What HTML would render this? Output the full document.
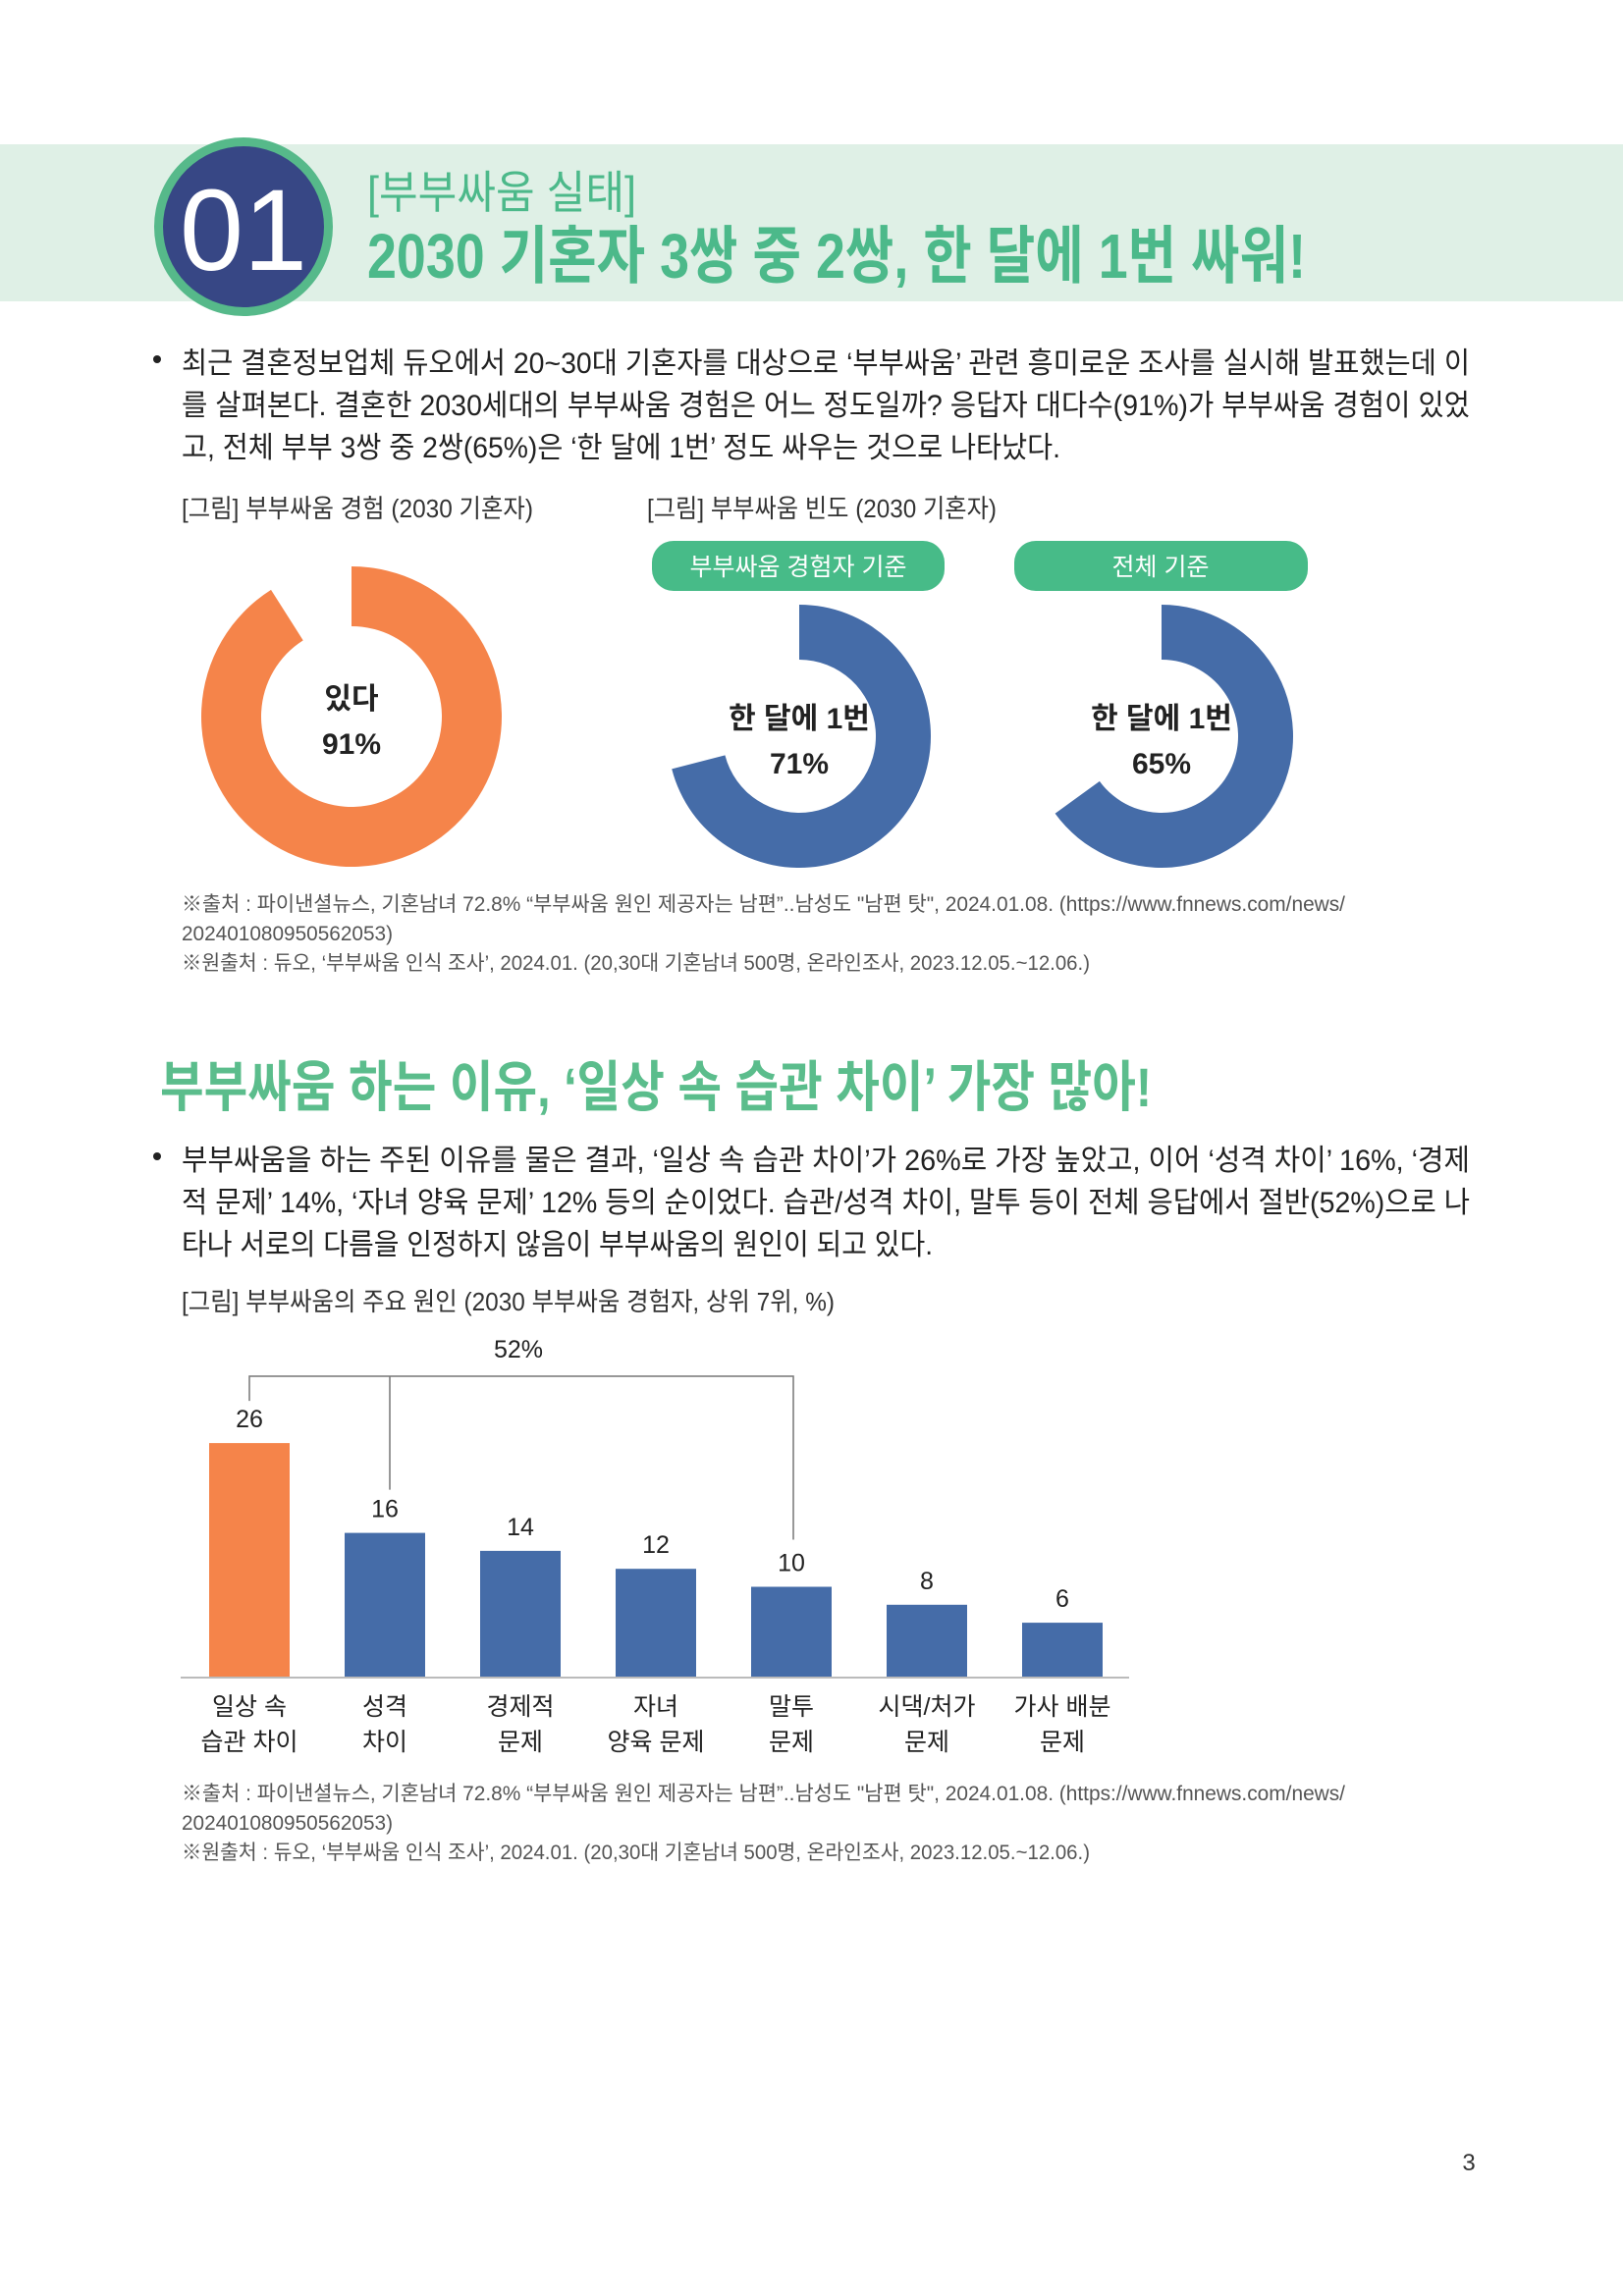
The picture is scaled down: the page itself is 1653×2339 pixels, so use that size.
<!DOCTYPE html>
<html><head><meta charset="utf-8">
<style>
html,body{margin:0;padding:0;background:#fff;}
svg{display:block;font-family:"Liberation Sans","Noto Sans CJK KR",sans-serif;}
</style></head>
<body>
<svg id="pg" width="1653" height="2339" viewBox="0 0 1653 2339" xmlns="http://www.w3.org/2000/svg">
<rect x="0" y="147" width="1653" height="160" fill="#dff0e6"/>
<circle cx="248" cy="231" r="91" fill="#56b98a"/>
<circle cx="248" cy="231" r="82" fill="#374785"/>
<text x="248" y="275" text-anchor="middle" font-size="118" fill="#fff" textLength="130" lengthAdjust="spacingAndGlyphs">01</text>
<text x="374" y="212" font-size="46" fill="#4cb98a" textLength="274" lengthAdjust="spacingAndGlyphs">[부부싸움 실태]</text>
<text x="374" y="283" font-size="64" font-weight="bold" fill="#4cb98a" textLength="956" lengthAdjust="spacingAndGlyphs">2030 기혼자 3쌍 중 2쌍, 한 달에 1번 싸워!</text>

<g font-size="30" fill="#222">
<circle cx="160" cy="366" r="4" fill="#222"/>
<text x="185" y="380" textLength="1312" lengthAdjust="spacingAndGlyphs">최근 결혼정보업체 듀오에서 20~30대 기혼자를 대상으로 ‘부부싸움’ 관련 흥미로운 조사를 실시해 발표했는데 이</text>
<text x="185" y="423" textLength="1312" lengthAdjust="spacingAndGlyphs">를 살펴본다. 결혼한 2030세대의 부부싸움 경험은 어느 정도일까? 응답자 대다수(91%)가 부부싸움 경험이 있었</text>
<text x="185" y="466" textLength="895" lengthAdjust="spacingAndGlyphs">고, 전체 부부 3쌍 중 2쌍(65%)은 ‘한 달에 1번’ 정도 싸우는 것으로 나타났다.</text>
</g>

<text x="185" y="527" font-size="26" fill="#333" textLength="358" lengthAdjust="spacingAndGlyphs">[그림] 부부싸움 경험 (2030 기혼자)</text>
<text x="659" y="527" font-size="26" fill="#333" textLength="356" lengthAdjust="spacingAndGlyphs">[그림] 부부싸움 빈도 (2030 기혼자)</text>

<rect x="664" y="551" width="298" height="51" rx="22" fill="#47bb88"/>
<text x="813" y="586" text-anchor="middle" font-size="25" fill="#fff">부부싸움 경험자 기준</text>
<rect x="1033" y="551" width="299" height="51" rx="22" fill="#47bb88"/>
<text x="1182" y="586" text-anchor="middle" font-size="25" fill="#fff">전체 기준</text>

<g id="donuts"></g>

<g font-size="21" fill="#555">
<text x="185" y="928" textLength="1185" lengthAdjust="spacingAndGlyphs">※출처 : 파이낸셜뉴스, 기혼남녀 72.8% “부부싸움 원인 제공자는 남편”..남성도 "남편 탓", 2024.01.08. (https://www.fnnews.com/news/</text>
<text x="185" y="958" textLength="215" lengthAdjust="spacingAndGlyphs">202401080950562053)</text>
<text x="185" y="988" textLength="925" lengthAdjust="spacingAndGlyphs">※원출처 : 듀오, ‘부부싸움 인식 조사’, 2024.01. (20,30대 기혼남녀 500명, 온라인조사, 2023.12.05.~12.06.)</text>
</g>

<text x="163" y="1127" font-size="56" font-weight="bold" fill="#5bbd8c" textLength="1010" lengthAdjust="spacingAndGlyphs">부부싸움 하는 이유, ‘일상 속 습관 차이’ 가장 많아!</text>

<g font-size="30" fill="#222">
<circle cx="160" cy="1178" r="4" fill="#222"/>
<text x="185" y="1192" textLength="1312" lengthAdjust="spacingAndGlyphs">부부싸움을 하는 주된 이유를 물은 결과, ‘일상 속 습관 차이’가 26%로 가장 높았고, 이어 ‘성격 차이’ 16%, ‘경제</text>
<text x="185" y="1235" textLength="1312" lengthAdjust="spacingAndGlyphs">적 문제’ 14%, ‘자녀 양육 문제’ 12% 등의 순이었다. 습관/성격 차이, 말투 등이 전체 응답에서 절반(52%)으로 나</text>
<text x="185" y="1278" textLength="765" lengthAdjust="spacingAndGlyphs">타나 서로의 다름을 인정하지 않음이 부부싸움의 원인이 되고 있다.</text>
</g>

<text x="185" y="1335" font-size="26" fill="#333" textLength="665" lengthAdjust="spacingAndGlyphs">[그림] 부부싸움의 주요 원인 (2030 부부싸움 경험자, 상위 7위, %)</text>

<g id="bars"></g>

<g font-size="21" fill="#555">
<text x="185" y="1834" textLength="1185" lengthAdjust="spacingAndGlyphs">※출처 : 파이낸셜뉴스, 기혼남녀 72.8% “부부싸움 원인 제공자는 남편”..남성도 "남편 탓", 2024.01.08. (https://www.fnnews.com/news/</text>
<text x="185" y="1864" textLength="215" lengthAdjust="spacingAndGlyphs">202401080950562053)</text>
<text x="185" y="1894" textLength="925" lengthAdjust="spacingAndGlyphs">※원출처 : 듀오, ‘부부싸움 인식 조사’, 2024.01. (20,30대 기혼남녀 500명, 온라인조사, 2023.12.05.~12.06.)</text>
</g>

<text x="1496" y="2211" font-size="24" fill="#333" text-anchor="middle">3</text>
</svg>

<script>
const donutValues = [91, 71, 65];
const donutLabels = ["있다", "한 달에 1번", "한 달에 1번"];
const donutColors = ["#f5844a", "#456ca8", "#456ca8"];

const barCategories = [["일상 속","습관 차이"],["성격","차이"],["경제적","문제"],["자녀","양육 문제"],["말투","문제"],["시댁/처가","문제"],["가사 배분","문제"]];
const barValues = [26, 16, 14, 12, 10, 8, 6];
const bracketTotal = "52%";

const NS = "http://www.w3.org/2000/svg";
function mk(tag, attrs, parent){ const e=document.createElementNS(NS,tag); for(const k in attrs) e.setAttribute(k,attrs[k]); parent.appendChild(e); return e; }

const dg = document.getElementById('donuts');
const geo = [{cx:358,cy:730,R:153,r:92},{cx:814,cy:750,R:134,r:78},{cx:1183,cy:750,R:134,r:78}];
function arcPath(cx,cy,R,r,frac){
  const a0=-Math.PI/2, a1=a0+2*Math.PI*Math.min(frac,0.9999);
  const large = frac>0.5?1:0;
  const p=(rad,a)=>[cx+rad*Math.cos(a), cy+rad*Math.sin(a)];
  const [x0,y0]=p(R,a0),[x1,y1]=p(R,a1),[x2,y2]=p(r,a1),[x3,y3]=p(r,a0);
  return `M${x0},${y0} A${R},${R} 0 ${large} 1 ${x1},${y1} L${x2},${y2} A${r},${r} 0 ${large} 0 ${x3},${y3} Z`;
}
donutValues.forEach((v,i)=>{
  const g=geo[i];
  const p=mk('path',{d:arcPath(g.cx,g.cy,g.R,g.r,v/100),fill:donutColors[i]},dg);
  
  
  const t1=mk('text',{x:g.cx,y:g.cy-8,'text-anchor':'middle','font-size':30,'font-weight':'bold',fill:'#222'},dg);
  t1.textContent=donutLabels[i];
  
  
  const t2=mk('text',{x:g.cx,y:g.cy+38,'text-anchor':'middle','font-size':30,'font-weight':'bold',fill:'#222'},dg);
  t2.textContent=v+'%';
  
  
});

const bg=document.getElementById('bars');
const baseY=1708, unit=9.15, x0=254, step=138, bw=82;
const xOf=i=>x0+i*step, yOf=v=>baseY-v*unit;
const axis=mk('line',{x1:184,y1:baseY+1,x2:1150,y2:baseY+1,stroke:'#bbb','stroke-width':2},bg);


barValues.forEach((v,i)=>{
  const r=mk('rect',{x:xOf(i)-bw/2,y:yOf(v),width:bw,height:v*unit,fill:i===0?'#f5844a':'#456ca8'},bg);
  
  
  const t=mk('text',{x:xOf(i),y:yOf(v)-16,'text-anchor':'middle','font-size':25,fill:'#222'},bg);
  t.textContent=v;
  
  
  barCategories[i].forEach((s,j)=>{
    const c=mk('text',{x:xOf(i),y:1747+j*36,'text-anchor':'middle','font-size':25,fill:'#222'},bg);
    c.textContent=s;
    
    
  });
});
const by=1402;
const br=mk('path',{d:`M${xOf(0)},${yOf(barValues[0])-43} V${by} H${xOf(4)+2} V${yOf(barValues[4])-48} M${xOf(1)+5},${by} V${yOf(barValues[1])-44}`,fill:'none',stroke:'#777','stroke-width':1.5},bg);


const bt=mk('text',{x:528,y:1383,'text-anchor':'middle','font-size':25,fill:'#222'},bg);
bt.textContent=bracketTotal;


</script>
</body></html>
